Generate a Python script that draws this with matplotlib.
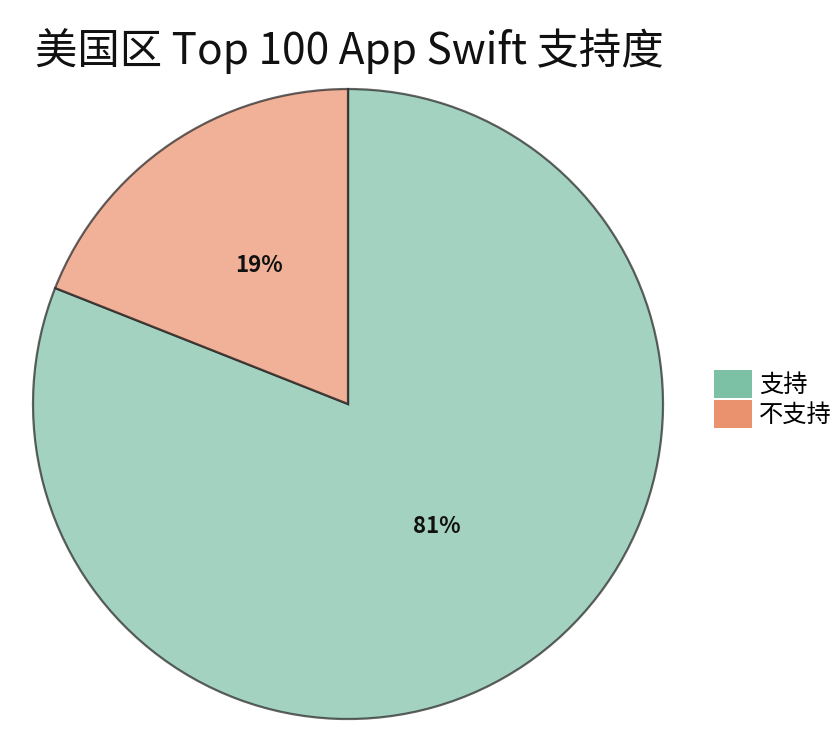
import matplotlib
matplotlib.use("Agg")
import matplotlib.pyplot as plt
from matplotlib.patches import Patch

plt.rcParams['font.family'] = ['Noto Sans CJK SC', 'DejaVu Sans']

labels = ['支持', '不支持']
values = [81, 19]
legend_colors = ['#7cc0a6', '#ea916d']
title = '美国区 Top 100 App Swift 支持度'

fig = plt.figure(figsize=(8.4, 7.5), dpi=100)
ax = fig.add_axes([0.0393, 0.0413, 0.75, 0.84])
wedges, texts, autotexts = ax.pie(
    values, colors=legend_colors, startangle=90, counterclock=False,
    autopct='%d%%', pctdistance=0.5, radius=1.0,
    wedgeprops=dict(alpha=0.7, edgecolor='#222222', linewidth=1.6),
    textprops=dict(fontsize=16, fontweight='bold', color='#111111'))
for w in wedges:
    w.set_edgecolor((0.13, 0.13, 0.13, 0.85))
for t in autotexts:
    x, y = t.get_position()
    t.set_position((x, y + 0.025))
ax.set_xlim(-1.0, 1.0)
ax.set_ylim(-1.0, 1.0)
ax.set_aspect('equal')

fig.text(0.042, 0.932, title, fontsize=30.5, ha='left', va='center', color='#111111')

handles = [Patch(facecolor=c, edgecolor='none') for c in legend_colors]
fig.legend(handles, labels, loc='center left', bbox_to_anchor=(0.85, 0.468),
           frameon=False, fontsize=17.5, handlelength=1.55, handleheight=1.4,
           handletextpad=0.3, labelspacing=0.1, borderaxespad=0,
           borderpad=0)

fig.savefig('out.png', dpi=100)
